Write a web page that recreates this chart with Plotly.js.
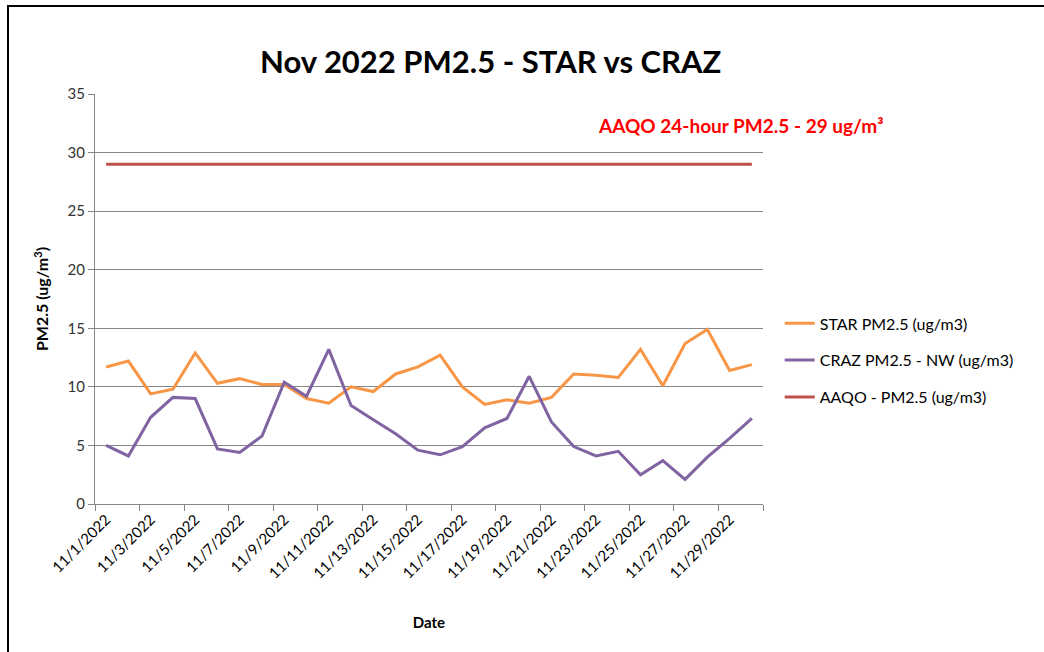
<!DOCTYPE html>
<html>
<head>
<meta charset="utf-8">
<script src="https://cdn.plot.ly/plotly-3.0.1.min.js"></script>
<style>
  html, body { margin: 0; padding: 0; background: #fff; }
  #wrap { position: relative; width: 1044px; height: 652px; overflow: hidden; }
  #chart { position: absolute; left: 0; top: 0; width: 1044px; height: 652px; }
  #frame { position: absolute; left: 7px; top: 5px; width: 1100px; height: 700px;
           border-left: 2px solid #000; border-top: 2px solid #000; pointer-events: none; }
</style>
</head>
<body>
<div id="wrap">
  <div id="chart"></div>
  <div id="frame"></div>
</div>
<script>
const dates = ["11/1/2022","11/2/2022","11/3/2022","11/4/2022","11/5/2022","11/6/2022","11/7/2022","11/8/2022","11/9/2022","11/10/2022",
  "11/11/2022","11/12/2022","11/13/2022","11/14/2022","11/15/2022","11/16/2022","11/17/2022","11/18/2022","11/19/2022","11/20/2022",
  "11/21/2022","11/22/2022","11/23/2022","11/24/2022","11/25/2022","11/26/2022","11/27/2022","11/28/2022","11/29/2022","11/30/2022"];

const starPM25 = [11.7, 12.2, 9.4, 9.8, 12.9, 10.3, 10.7, 10.2, 10.2, 9.0,
  8.6, 10.0, 9.6, 11.1, 11.7, 12.7, 10.0, 8.5, 8.9, 8.6,
  9.1, 11.1, 11.0, 10.8, 13.2, 10.1, 13.7, 14.9, 11.4, 11.9];

const crazPM25 = [5.0, 4.1, 7.4, 9.1, 9.0, 4.7, 4.4, 5.8, 10.4, 9.2,
  13.2, 8.4, 7.2, 6.0, 4.6, 4.2, 4.9, 6.5, 7.3, 10.9,
  7.0, 4.9, 4.1, 4.5, 2.5, 3.7, 2.1, 4.0, 5.6, 7.3];

const aaqoLimit = 29;
const aaqoPM25 = dates.map(() => aaqoLimit);

const seriesNames = ["STAR PM2.5 (ug/m3)", "CRAZ PM2.5 - NW (ug/m3)", "AAQO - PM2.5 (ug/m3)"];
const titleText = "Nov 2022 PM2.5 - STAR vs CRAZ";
const yTitle = "PM2.5 (ug/m<sup>3</sup>)";
const xTitle = "Date";
const noteText = "AAQO 24-hour PM2.5 - 29 ug/m³";

const baseFont = "Lato, 'Open Sans', sans-serif";

const traces = [
  { x: dates, y: starPM25, name: seriesNames[0], type: "scatter", mode: "lines",
    line: { color: "#F79646", width: 3 }, legendgroup: "a" },
  { x: dates, y: crazPM25, name: seriesNames[1], type: "scatter", mode: "lines",
    line: { color: "#8064A2", width: 3 }, legendgroup: "b" },
  { x: dates, y: aaqoPM25, name: seriesNames[2], type: "scatter", mode: "lines",
    line: { color: "#C0504D", width: 3 }, legendgroup: "c" }
];

const layout = {
  width: 1044, height: 652,
  margin: { l: 95, r: 281, t: 94, b: 148 },
  paper_bgcolor: "rgba(0,0,0,0)",
  plot_bgcolor: "#fff",
  font: { family: baseFont, color: "#000" },
  title: { text: "<b>" + titleText + "</b>", font: { size: 31, family: baseFont, color: "#000" },
           x: 0.47, xanchor: "center", y: 0.905, yanchor: "middle" },
  showlegend: true,
  legend: { x: 1.025, xanchor: "left", y: 0.482, yanchor: "top",
            font: { size: 16, family: baseFont, color: "#000" },
            tracegroupgap: 13, bgcolor: "rgba(0,0,0,0)" },
  xaxis: {
    type: "category",
    range: [-0.5, dates.length - 0.5],
    dtick: 2,
    tickson: "boundaries",
    ticks: "outside", ticklen: 6, tickcolor: "#868686",
    tickangle: -45,
    tickfont: { size: 15, family: baseFont, color: "#000" },
    showline: true, linecolor: "#868686", linewidth: 1,
    showgrid: false, zeroline: false,
    title: { text: "<b>" + xTitle + "</b>", font: { size: 15, family: baseFont, color: "#000" }, standoff: 36 }
  },
  yaxis: {
    range: [0, 35], dtick: 5,
    ticks: "outside", ticklen: 6, tickcolor: "#868686",
    tickfont: { size: 15, family: baseFont, color: "#333" },
    showline: true, linecolor: "#868686", linewidth: 1,
    showgrid: true, gridcolor: "#868686", gridwidth: 1,
    zeroline: false,
    title: { text: "<b>" + yTitle + "</b>", font: { size: 16, family: baseFont, color: "#000" }, standoff: 14 }
  },
  annotations: [
    { text: "<b>" + noteText + "</b>", xref: "paper", yref: "paper", x: 0.967, y: 0.922,
      xanchor: "center", yanchor: "middle", showarrow: false,
      font: { size: 19, family: baseFont, color: "#FF0000" } }
  ]
};

Plotly.newPlot("chart", traces, layout, { displayModeBar: false, staticPlot: true });
</script>
</body>
</html>
